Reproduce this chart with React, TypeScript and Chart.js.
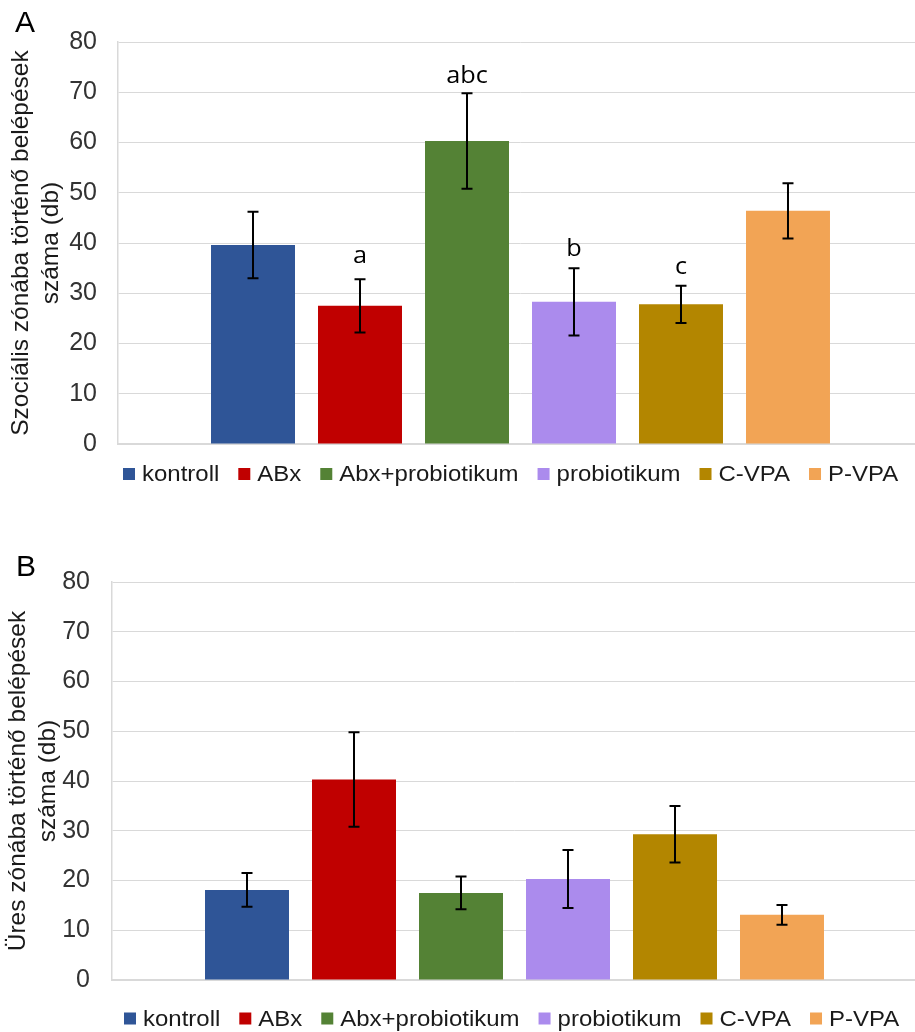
import React, { useEffect, useRef } from 'react';
import { Chart, registerables } from 'chart.js';

Chart.register(...registerables);

// ---------- data ----------
const groups = ['kontroll', 'ABx', 'Abx+probiotikum', 'probiotikum', 'C-VPA', 'P-VPA'];
const groupColors = ['#2F5597', '#C00000', '#548235', '#AB8BED', '#B38600', '#F2A455'];

const socialMeans = [39.6, 27.5, 60.3, 28.3, 27.8, 46.4];
const socialErrors = [6.6, 5.3, 9.5, 6.7, 3.7, 5.5];
const socialLetters = ['', 'a', 'abc', 'b', 'c', ''];
const socialTitle = ['Szociális zónába történő belépések', 'száma (db)'];

const emptyMeans = [18.1, 40.3, 17.5, 20.3, 29.3, 13.1];
const emptyErrors = [3.4, 9.5, 3.3, 5.85, 5.7, 2.0];
const emptyLetters = ['', '', '', '', '', ''];
const emptyTitle = ['Üres zónába történő belépések', 'száma (db)'];

const yMin = 0;
const yMax = 80;
const yStep = 10;

// ---------- styles ----------
const ARIAL = '"Liberation Sans", Arial, sans-serif';
const LETTER_FONT = '"Open Sans", "Noto Sans", sans-serif';
const CANVAS_W = 923;
const CANVAS_H = 516;

type PanelCfg = {
  panelLetter: string;
  title: string[];
  means: number[];
  errors: number[];
  letters: string[];
  top: number;
  padTop: number;
  padBottom: number;
  padRight: number;
  yWidth: number;
  tickPad: number;
  titlePad: number;
  legendX: number;
  legendY: number;
  letterX: number;
  letterY: number;
  letterLift: number[];
};

const panels: PanelCfg[] = [
  {
    panelLetter: 'A',
    title: socialTitle,
    means: socialMeans,
    errors: socialErrors,
    letters: socialLetters,
    top: 0,
    padTop: 42,
    padBottom: 72,
    padRight: 0,
    yWidth: 118,
    tickPad: 21,
    titlePad: 7,
    legendX: 123,
    legendY: 474,
    letterX: 15,
    letterY: 32,
    letterLift: [12, 16, 10, 12, 12, 12],
  },
  {
    panelLetter: 'B',
    title: emptyTitle,
    means: emptyMeans,
    errors: emptyErrors,
    letters: emptyLetters,
    top: 516,
    padTop: 66,
    padBottom: 52,
    padRight: 6,
    yWidth: 112,
    tickPad: 22,
    titlePad: 4,
    legendX: 124,
    legendY: 502.5,
    letterX: 16,
    letterY: 60,
    letterLift: [12, 12, 12, 12, 12, 12],
  },
];

function makePlugins(p: PanelCfg) {
  const errorBars = {
    id: 'errorBars',
    afterDatasetsDraw(chart: any) {
      const { ctx } = chart;
      const ys = chart.scales.y;
      ctx.save();
      ctx.strokeStyle = '#000';
      ctx.lineWidth = 2;
      chart.data.datasets.forEach((ds: any, i: number) => {
        const bar = chart.getDatasetMeta(i).data[0];
        if (!bar) return;
        const v = ds.data[0];
        const e = p.errors[i];
        const yt = ys.getPixelForValue(v + e);
        const yb = ys.getPixelForValue(v - e);
        const x = bar.x;
        const cap = 5.5;
        ctx.beginPath();
        ctx.moveTo(x, yt);
        ctx.lineTo(x, yb);
        ctx.moveTo(x - cap, yt);
        ctx.lineTo(x + cap, yt);
        ctx.moveTo(x - cap, yb);
        ctx.lineTo(x + cap, yb);
        ctx.stroke();
      });
      ctx.restore();

      // significance letters
      ctx.save();
      ctx.fillStyle = '#000';
      ctx.font = `23px ${LETTER_FONT}`;
      ctx.textAlign = 'center';
      ctx.textBaseline = 'alphabetic';
      chart.data.datasets.forEach((ds: any, i: number) => {
        const txt = p.letters[i];
        if (!txt) return;
        const bar = chart.getDatasetMeta(i).data[0];
        const v = ds.data[0];
        const yt = ys.getPixelForValue(v + p.errors[i]);
        ctx.save();
        ctx.translate(bar.x, yt - p.letterLift[i]);
        ctx.scale(1.1, 1);
        ctx.fillText(txt, 0, 0);
        ctx.restore();
      });
      ctx.restore();
    },
  };

  const legendAndLetter = {
    id: 'customLegend',
    afterDraw(chart: any) {
      const { ctx } = chart;
      ctx.save();
      // panel letter
      ctx.fillStyle = '#000';
      ctx.font = `30px ${ARIAL}`;
      ctx.textAlign = 'left';
      ctx.textBaseline = 'alphabetic';
      ctx.fillText(p.panelLetter, p.letterX, p.letterY);

      // legend
      const sx = 1.09;
      ctx.font = `22px ${ARIAL}`;
      ctx.textBaseline = 'middle';
      let x = p.legendX;
      const cy = p.legendY;
      chart.data.datasets.forEach((ds: any) => {
        ctx.fillStyle = ds.backgroundColor;
        ctx.fillRect(x, cy - 6, 12, 12);
        const tx = x + 12 + 7;
        ctx.fillStyle = '#1a1a1a';
        ctx.save();
        ctx.translate(tx, cy + 1);
        ctx.scale(sx, 1);
        ctx.fillText(ds.label, 0, 0);
        ctx.restore();
        const w = ctx.measureText(ds.label).width * sx;
        x = tx + w + 19;
      });
      ctx.restore();
    },
  };
  return [errorBars, legendAndLetter];
}

function PanelChart({ cfg }: { cfg: PanelCfg }) {
  const ref = useRef<HTMLCanvasElement | null>(null);
  useEffect(() => {
    if (!ref.current) return;
    const chart = new Chart(ref.current, {
      type: 'bar',
      data: {
        labels: [''],
        datasets: groups.map((g, i) => ({
          label: g,
          data: [cfg.means[i]],
          backgroundColor: groupColors[i],
          borderWidth: 0,
          categoryPercentage: 0.7975,
          barPercentage: 0.785,
        })),
      },
      options: {
        responsive: false,
        animation: false,
        devicePixelRatio: 1,
        layout: { padding: { top: cfg.padTop, bottom: cfg.padBottom, left: 0, right: cfg.padRight } },
        plugins: {
          legend: { display: false },
          tooltip: { enabled: false },
        },
        scales: {
          x: {
            display: true,
            grid: { display: false, drawTicks: false },
            ticks: { display: false },
            border: { display: true, color: '#d9d9d9', width: 2 },
          },
          y: {
            min: yMin,
            max: yMax,
            ticks: {
              stepSize: yStep,
              color: '#333',
              padding: cfg.tickPad,
              font: { family: ARIAL, size: 25 },
            },
            grid: { color: '#d9d9d9', lineWidth: 1, drawTicks: false },
            border: { display: true, color: '#d9d9d9', width: 1.5 },
            title: {
              display: true,
              text: cfg.title,
              color: '#1a1a1a',
              font: { family: ARIAL, size: 24.5, lineHeight: 1.2 },
              padding: { top: cfg.titlePad, bottom: 0 },
            },
            afterFit: (scale: any) => {
              scale.width = cfg.yWidth;
            },
          },
        },
      } as any,
      plugins: makePlugins(cfg) as any,
    });
    return () => chart.destroy();
  }, [cfg]);

  return (
    <div style={{ position: 'absolute', left: 0, top: cfg.top, width: CANVAS_W, height: CANVAS_H }}>
      <canvas ref={ref} width={CANVAS_W} height={CANVAS_H} style={{ width: CANVAS_W, height: CANVAS_H, display: 'block' }} />
    </div>
  );
}

export default function App() {
  return (
    <div
      style={{
        position: 'absolute',
        left: 0,
        top: 0,
        width: 915,
        height: 1032,
        overflow: 'hidden',
        background: '#fff',
      }}
    >
      {panels.map((p) => (
        <PanelChart key={p.panelLetter} cfg={p} />
      ))}
    </div>
  );
}
